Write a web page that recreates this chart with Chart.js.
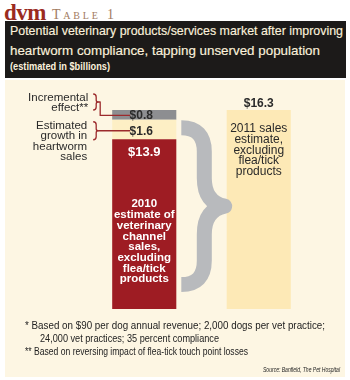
<!DOCTYPE html>
<html>
<head>
<meta charset="utf-8">
<script src="https://cdn.jsdelivr.net/npm/chart.js@4.4.1/dist/chart.umd.min.js"></script>
<style>
body { margin:0; width:350px; height:380px; background:#fff; position:relative; overflow:hidden;
       font-family:"Liberation Sans Narrow","Liberation Sans",Arial,sans-serif; }
.t { position:absolute; white-space:nowrap; line-height:1; transform-origin:0 0; }
#logo { left:4px; top:0px; font:bold 23px "Liberation Serif",serif; color:#9b2b1f; letter-spacing:-0.5px; }
#tab { left:52px; top:6.5px; font:14px "Liberation Serif",serif; font-variant:small-caps; letter-spacing:2.8px; color:#a27b62; }
#titlebox { position:absolute; left:5px; top:21px; width:341px; height:57px; background:#1c1a19; }
.ttl { color:#fbf1dc; font-size:13px; -webkit-text-stroke:0.15px #fbf1dc; }
.sub { color:#fbf1dc; font-size:10px; font-weight:bold; }
#panel { position:absolute; left:5px; top:80px; width:340px; height:297px; background:#fdf6e3; }
#wrap { position:absolute; left:0; top:80px; width:350px; height:240px; }
.fn { font-size:11px; color:#222; }
#src { font-size:8px; font-style:italic; color:#222; }
</style>
</head>
<body>
<div class="t" id="logo">dvm</div>
<div class="t" id="tab">Table 1</div>
<div id="titlebox"></div>
<div class="t ttl" style="left:10px;top:24px" data-w="333">Potential veterinary products/services market after improving</div>
<div class="t ttl" style="left:10px;top:44px" data-w="310">heartworm compliance, tapping unserved population</div>
<div class="t sub" style="left:10px;top:61.5px" data-w="100">(estimated in $billions)</div>
<div id="panel"></div>
<div id="wrap"><canvas id="chart" width="350" height="240"></canvas></div>
<div class="t fn" style="left:25px;top:320px" data-w="300">* Based on $90 per dog annual revenue; 2,000 dogs per vet practice;</div>
<div class="t fn" style="left:40px;top:333px" data-w="179">24,000 vet practices; 35 percent compliance</div>
<div class="t fn" style="left:25px;top:345.7px" data-w="223">** Based on reversing impact of flea-tick touch point losses</div>
<div class="t" id="src" style="left:263px;top:365.5px" data-w="77">Source: Banfield, The Pet Hospital</div>
<script>
// stacked 2010 bar + 2011 total ($billions)
var categories = ['2010', '2011'];
var baseSales = [13.9, null];
var heartwormGrowth = [1.6, null];
var incrementalEffect = [0.8, null];
var salesEstimate2011 = [null, 16.3];

var baseText = ['2010', 'estimate of', 'veterinary', 'channel', 'sales,', 'excluding', 'flea/tick', 'products'];
var estimateText = ['2011 sales', 'estimate,', 'excluding', 'flea/tick', 'products'];
var incrementalNote = ['Incremental', 'effect**'];
var growthNote = ['Estimated', 'growth in', 'heartworm', 'sales'];

var FONT = '"Liberation Sans Narrow", "Liberation Sans", Arial, sans-serif';

function money(v) {
    return '$' + v.toFixed(1);
}

// squeeze the html text lines to their set widths
function fitWidth(el) {
    var w = parseFloat(el.getAttribute('data-w'));
    var actual = el.getBoundingClientRect().width;
    if (actual > 0) el.style.transform = 'scaleX(' + (w / actual) + ')';
}

function smallBrace(ctx, x, y0, y1) {
    var mid = (y0 + y1) / 2;
    ctx.beginPath();
    ctx.moveTo(x, y0);
    ctx.quadraticCurveTo(x + 3, y0, x + 3, y0 + 3);
    ctx.lineTo(x + 3, mid - 2);
    ctx.quadraticCurveTo(x + 3, mid, x + 5, mid);
    ctx.quadraticCurveTo(x + 3, mid, x + 3, mid + 2);
    ctx.lineTo(x + 3, y1 - 3);
    ctx.quadraticCurveTo(x + 3, y1, x, y1);
    ctx.stroke();
    return mid;
}

var annotations = {
    id: 'annotations',
    afterDatasetsDraw: function(chart) {
        var ctx = chart.ctx;
        var y = chart.scales.y;
        var red = chart.getDatasetMeta(0).data[0];
        var cream = chart.getDatasetMeta(1).data[0];
        var grey = chart.getDatasetMeta(2).data[0];
        var right = chart.getDatasetMeta(3).data[1];
        var barLeft = red.x - red.width / 2;
        var barRight = red.x + red.width / 2;

        ctx.save();

        // big grey curly brace between the two bars
        var bx0 = barRight + 5;
        var bx1 = right.x - right.width / 2 - 2;
        var vx = bx0 + 23;
        var top = y.getPixelForValue(14.85);
        var bot = y.getPixelForValue(2.0);
        var mid = (top + bot) / 2;
        ctx.strokeStyle = '#b8babd';
        ctx.lineWidth = 15;
        ctx.lineCap = 'butt';
        ctx.lineJoin = 'round';
        ctx.beginPath();
        ctx.moveTo(bx0, top);
        ctx.quadraticCurveTo(vx, top, vx, top + 24);
        ctx.lineTo(vx, mid - 28);
        ctx.quadraticCurveTo(vx, mid - 4, bx1, mid);
        ctx.quadraticCurveTo(vx, mid + 4, vx, mid + 28);
        ctx.lineTo(vx, bot - 24);
        ctx.quadraticCurveTo(vx, bot, bx0, bot);
        ctx.stroke();

        // value labels
        ctx.textAlign = 'center';
        ctx.textBaseline = 'middle';
        ctx.fillStyle = '#2a2a2a';
        ctx.font = 'bold 12px ' + FONT;
        var greyMid = (grey.y + grey.base) / 2 + 0.5;
        var creamMid = (cream.y + cream.base) / 2 + 2;
        ctx.fillText(money(incrementalEffect[0]), grey.x - 3, greyMid);
        ctx.fillText(money(heartwormGrowth[0]), cream.x - 3, creamMid);
        ctx.fillText(money(salesEstimate2011[1]), right.x, right.y - 6);

        ctx.fillStyle = '#ffffff';
        ctx.font = 'bold 13px ' + FONT;
        ctx.fillText(money(baseSales[0]), red.x, red.y + 13);
        ctx.font = 'bold 11.5px ' + FONT;
        baseText.forEach(function(line, i) {
            ctx.fillText(line, red.x, red.y + 65 + i * 10.7);
        });

        ctx.fillStyle = '#2a2a2a';
        ctx.font = '12px ' + FONT;
        estimateText.forEach(function(line, i) {
            ctx.fillText(line, right.x, right.y + 19 + i * 10.6);
        });

        // notes on the left with their red leaders
        ctx.textAlign = 'right';
        ctx.font = '11.5px ' + FONT;
        incrementalNote.forEach(function(line, i) {
            ctx.fillText(line, barLeft - 24, grey.y - 12 + i * 9.7);
        });
        growthNote.forEach(function(line, i) {
            ctx.fillText(line, barLeft - 25, cream.y + 6 + i * 10.4);
        });

        ctx.strokeStyle = '#9c2a2c';
        ctx.lineWidth = 1.3;
        var bx = barLeft - 19;
        var m1 = smallBrace(ctx, bx, grey.y - 16, grey.y);
        ctx.beginPath();
        ctx.moveTo(bx + 5, m1);
        ctx.lineTo(bx + 7, m1);
        ctx.lineTo(bx + 7, greyMid);
        ctx.lineTo(barLeft + 18, greyMid);
        ctx.stroke();

        var m2 = smallBrace(ctx, bx, cream.y + 2, cream.y + 20);
        ctx.beginPath();
        ctx.moveTo(bx + 5, m2);
        ctx.lineTo(barLeft + 18, m2);
        ctx.stroke();

        ctx.restore();
    }
};

var barDefaults = { barPercentage: 0.56, categoryPercentage: 1, borderWidth: 0 };

var chart = new Chart(document.getElementById('chart').getContext('2d'), {
    type: 'bar',
    data: {
        labels: categories,
        datasets: [
            Object.assign({ label: '2010 estimate', data: baseSales, backgroundColor: '#9e1c23' }, barDefaults),
            Object.assign({ label: 'Estimated growth', data: heartwormGrowth, backgroundColor: '#fdefc5' }, barDefaults),
            Object.assign({ label: 'Incremental effect', data: incrementalEffect, backgroundColor: '#8d8e91' }, barDefaults),
            Object.assign({ label: '2011 estimate', data: salesEstimate2011, backgroundColor: '#fde9b6' }, barDefaults)
        ]
    },
    options: {
        responsive: false,
        animation: false,
        devicePixelRatio: 1,
        layout: { padding: { left: 87, right: 34, top: 30, bottom: 11 } },
        plugins: { legend: { display: false }, tooltip: { enabled: false } },
        scales: {
            x: { display: false, stacked: true },
            y: { display: false, stacked: true, min: 0, max: 16.3 }
        }
    },
    plugins: [annotations]
});

document.querySelectorAll('[data-w]').forEach(fitWidth);
</script>
</body>
</html>
